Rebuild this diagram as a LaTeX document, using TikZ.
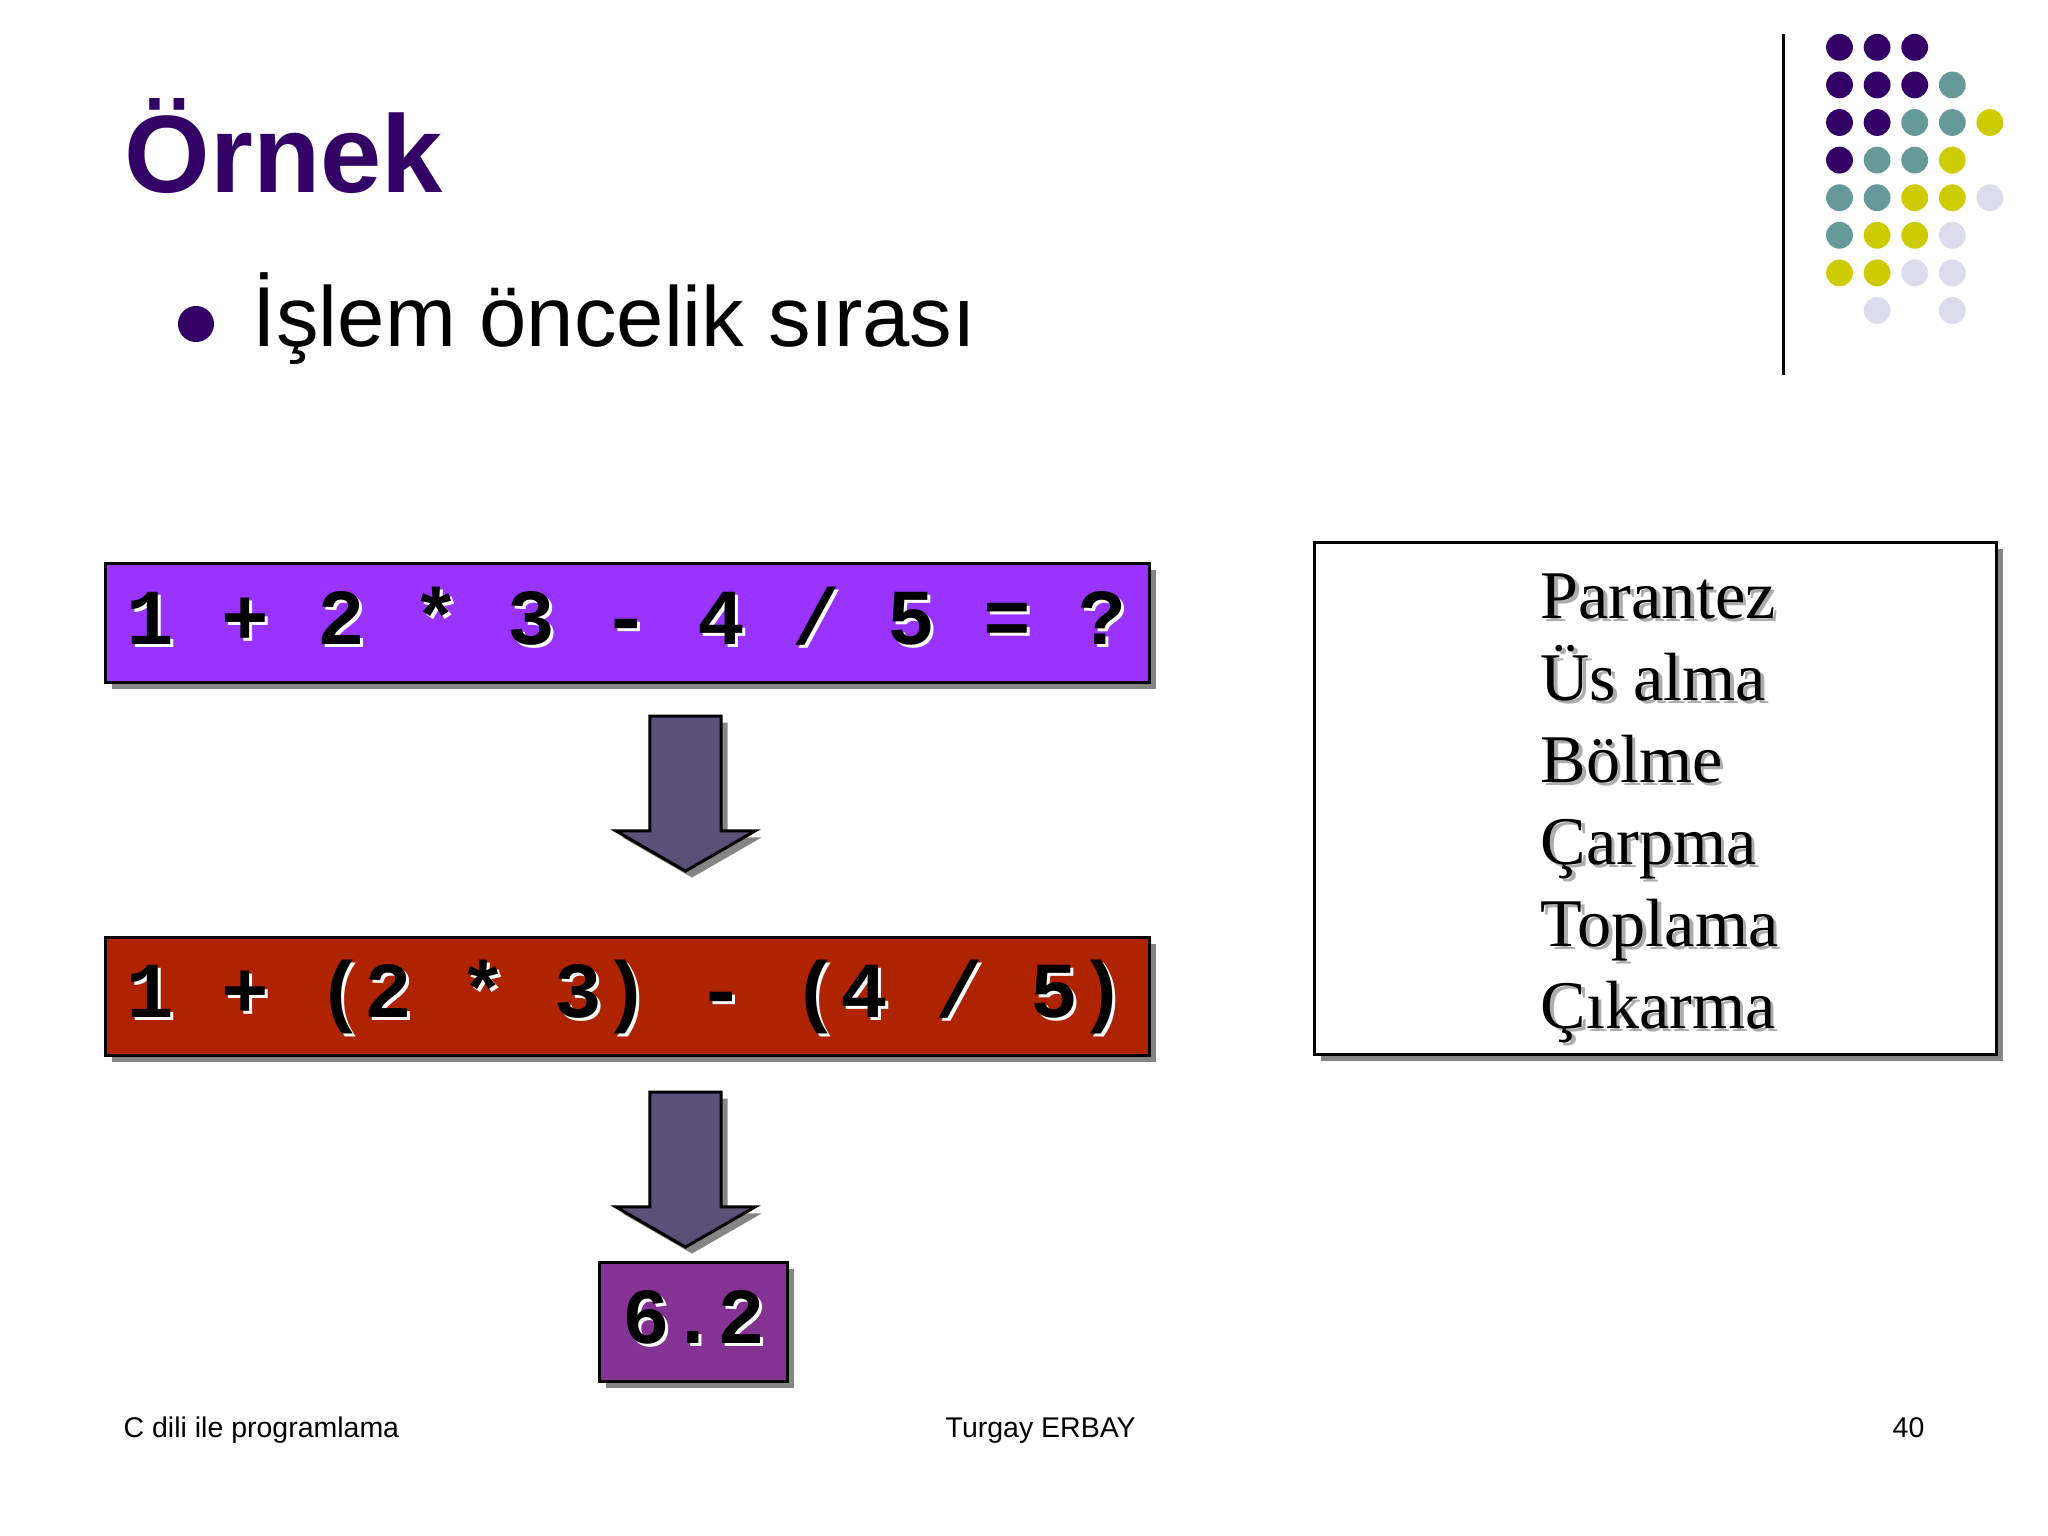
\documentclass[tikz,border=0pt]{standalone}
\usepackage{fontspec}
\setmainfont{Liberation Sans}
\newfontfamily\listfont{Liberation Serif}
\setmonofont{Liberation Mono}
\usetikzlibrary{positioning,shapes.arrows,shadows}

\definecolor{dotdark}{HTML}{330066}
\definecolor{dotteal}{HTML}{669999}
\definecolor{dotyellow}{HTML}{CCCC00}
\definecolor{dotlilac}{HTML}{DCDCEC}
\definecolor{barpurple}{HTML}{9933FF}
\definecolor{barred}{HTML}{AE2300}
\definecolor{barviolet}{HTML}{853392}
\definecolor{arrowfill}{HTML}{5A5078}
\definecolor{shadowgray}{HTML}{858585}

% text with an offset copy behind it
\newcommand{\liftcopy}[3]{\leavevmode\mbox{\spaceskip=0pt\relax\rlap{\kern#3\raisebox{-#3}{\textcolor{#1}{#2}}}#2}}

\begin{document}
\begin{tikzpicture}[x=0.01cm,y=-0.01cm,node distance=2.55cm,
		box shadow/.style={drop shadow={shadow xshift=0.065cm,shadow yshift=-0.065cm,fill=shadowgray,opacity=1}},
		bar node/.style={rectangle,draw=black,line width=0.03cm,outer sep=0pt,box shadow,
			minimum height=1.18cm,inner ysep=0pt,text height=0.62cm,text depth=0.2cm,
			font=\ttfamily\bfseries\fontsize{22.55}{26}\selectfont},
		wide bar/.style={bar node,minimum width=10.44cm,inner xsep=0.215cm,text width=10.01cm,align=left},
		arrow node/.style={single arrow,draw=black,fill=arrowfill,line width=0.03cm,outer sep=0pt,box shadow,
			minimum width=1.36cm,minimum height=1.55cm,inner xsep=0.34cm,inner ysep=0pt,
			single arrow head extend=0.34cm,single arrow tip angle=120,shape border rotate=270,anchor=tail},
		dot node/.style={circle,inner sep=0pt,minimum size=0.268cm},
		list node/.style={anchor=base west,inner sep=0pt,font=\listfont\fontsize{19.4}{23}\selectfont}]

		\useasboundingbox (0,0) rectangle (2048,1536);

		\node[anchor=base west,inner sep=0pt,text=dotdark,font=\bfseries\fontsize{31.3}{36}\selectfont] (title) at (124,192) {Örnek};
		\node[circle,fill=dotdark,inner sep=0pt,minimum size=0.36cm] (bullet) at (196,324) {};
		\node[anchor=base west,inner sep=0pt,font=\fontsize{24.2}{28}\selectfont] (topic) at (252,346) {İşlem öncelik sırası};

		\node[wide bar,fill=barpurple] (question) at (627.5,623) {\liftcopy{white}{1 + 2 * 3 - 4 / 5 = ?}{0.03cm}};
		\node[wide bar,fill=barred] (grouped) [below=of question] {\liftcopy{white}{1 + (2 * 3) - (4 / 5)}{0.03cm}};
		\node[bar node,fill=barviolet,minimum width=1.87cm,inner xsep=0pt] (result) at (693.5,1322) {\liftcopy{white}{6.2}{0.03cm}};

		\node[arrow node] (step1) at (685.5,716) {};
		\node[arrow node] (step2) at (685.5,1092) {};

		\node[rectangle,draw=black,fill=white,line width=0.03cm,outer sep=0pt,box shadow,
			minimum width=6.81cm,minimum height=5.11cm] (order) at (1655.5,798.5) {};
		\foreach \word [count=\i] in {Parantez,Üs alma,Bölme,Çarpma,Toplama,Çıkarma}
			\node[list node] (op\i) at (1540,{618+82*(\i-1)}) {\liftcopy{black!32}{\word}{0.035cm}};

		\draw[line width=0.03cm] (1783,34) coordinate (ruletop) -- (1783,375) coordinate (rulebottom);
		\foreach \shade/\spots in {dotdark/{1/1,2/1,3/1,1/2,2/2,3/2,1/3,2/3,1/4},
				dotteal/{4/2,3/3,4/3,2/4,3/4,1/5,2/5,1/6},
				dotyellow/{5/3,4/4,3/5,4/5,2/6,3/6,1/7,2/7},
				dotlilac/{5/5,4/6,3/7,4/7,2/8,4/8}}
			\foreach \c/\r in \spots
				\node[dot node,fill=\shade] (dot\c\r) at ({1839.5+37.6*(\c-1)},{47.3+37.6*(\r-1)}) {};

		\node[anchor=base west,inner sep=0pt,font=\fontsize{8.1}{10}\selectfont] (course) at (123,1437) {C dili ile programlama};
		\node[anchor=base west,inner sep=0pt,font=\fontsize{8.1}{10}\selectfont] (teacher) at (945,1437) {Turgay ERBAY};
		\node[anchor=base west,inner sep=0pt,font=\fontsize{8.1}{10}\selectfont] (page) at (1892,1437) {40};
\end{tikzpicture}
\end{document}
